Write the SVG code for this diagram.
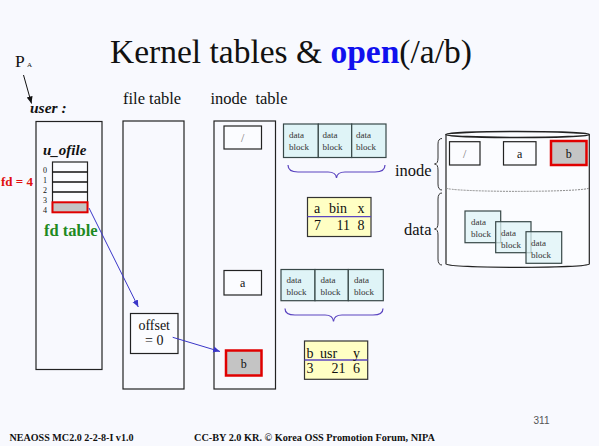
<svg xmlns="http://www.w3.org/2000/svg" width="599" height="446" viewBox="0 0 599 446">
<style>
text{font-family:"Liberation Serif","Times New Roman",serif;fill:#111}
.box{fill:none;stroke:#222;stroke-width:1.2}
.wbox{fill:#fbfcff;stroke:#222;stroke-width:1.2}
.sel{fill:#c4c4c4;stroke:#e00000;stroke-width:2.5}
.db{fill:#dff4f7;stroke:#384848;stroke-width:1.2}
.db2{fill:#dff4f7;fill-opacity:0.75;stroke:#384848;stroke-width:1.2}
.dbt{font-size:9px;fill:#333}
.yt{fill:#ffffc4;stroke:#333;stroke-width:1.2}
.brace{fill:none;stroke:#5a44c0;stroke-width:1.2}
.kbrace{fill:none;stroke:#333;stroke-width:1}
.lbl{font-size:16.5px}
.cell{font-size:14px}
.conn{stroke:#3a36c8;stroke-width:1;fill:none}
</style>
<defs>
<marker id="ah" markerWidth="8" markerHeight="8" refX="7" refY="4" orient="auto" markerUnits="userSpaceOnUse">
<path d="M0,1 L7,4 L0,7 Z" fill="#3a36c8"/>
</marker>
<marker id="ahk" markerWidth="8" markerHeight="8" refX="7" refY="4" orient="auto" markerUnits="userSpaceOnUse">
<path d="M0,1 L7,4 L0,7 Z" fill="#111"/>
</marker>
</defs>
<rect x="0" y="0" width="599" height="446" fill="#f8f9fe"/>

<text x="110" y="62.5" font-size="33.5">Kernel tables &amp; <tspan font-weight="bold" fill="#1010ee" style="fill:#1010ee">open</tspan>(/a/b)</text>

<g id="pa">
<text x="15" y="67" font-size="17.5">P</text>
<text x="27" y="67" font-size="7">A</text>
</g>
<g id="user">
<text x="30" y="112.5" font-size="15.5" font-weight="bold" font-style="italic">user :</text>
<rect class="box" x="36" y="121.5" width="66" height="248"/>
<text x="43" y="155" font-size="15" font-weight="bold" font-style="italic">u_ofile</text>
<rect class="wbox" x="52.5" y="162" width="35" height="50"/>
<line x1="52.5" y1="172" x2="87.5" y2="172" stroke="#111" stroke-width="1.3"/>
<line x1="52.5" y1="182" x2="87.5" y2="182" stroke="#111" stroke-width="1.3"/>
<line x1="52.5" y1="192" x2="87.5" y2="192" stroke="#111" stroke-width="1.3"/>
<rect class="sel" x="52.5" y="202.3" width="35" height="10" style="stroke-width:2"/>
<text x="43" y="173" font-size="8">0</text>
<text x="43" y="183" font-size="8">1</text>
<text x="43" y="193" font-size="8">2</text>
<text x="43" y="203" font-size="8">3</text>
<text x="43" y="213" font-size="8">4</text>
<text x="44" y="236" font-size="16.5" font-weight="bold" style="fill:#1f8a22">fd table</text>
<text x="1" y="186" font-size="13" font-weight="bold" style="fill:#e01010">fd = 4</text>
</g>
<g id="filetable">
<text class="lbl" x="123" y="104">file table</text>
<rect class="box" x="123" y="121" width="61" height="268"/>
<rect class="wbox" x="130.5" y="313.5" width="47.5" height="40"/>
<text class="cell" x="154.2" y="329.5" text-anchor="middle">offset</text>
<text class="cell" x="154.2" y="345" text-anchor="middle">= 0</text>
</g>
<g id="inodetable">
<text class="lbl" x="210.5" y="104" xml:space="preserve">inode  table</text>
<rect class="box" x="214" y="121" width="61.5" height="268"/>
<rect class="wbox" x="224" y="126" width="37.5" height="23"/>
<text x="242.7" y="141.5" font-size="12" text-anchor="middle" style="fill:#777">/</text>
<rect class="wbox" x="224" y="270.5" width="37.5" height="24.5"/>
<text x="242.7" y="287" font-size="12" text-anchor="middle">a</text>
<rect class="sel" x="226" y="350.5" width="35.5" height="25"/>
<text x="243.7" y="367.5" font-size="12" text-anchor="middle">b</text>
</g>
<g id="blocks1">
<rect class="db" x="283.5" y="124" width="34.8" height="33.5"/>
<rect class="db" x="318.3" y="124" width="33.4" height="33.5"/>
<rect class="db" x="351.7" y="124" width="34.3" height="33.5"/>
<text class="dbt" x="289" y="138">data</text><text class="dbt" x="289" y="150">block</text>
<text class="dbt" x="322.5" y="138">data</text><text class="dbt" x="322.5" y="150">block</text>
<text class="dbt" x="356" y="138">data</text><text class="dbt" x="356" y="150">block</text>
<path class="brace" d="M288,165 Q288,172 298,172 L328,172 Q336,172 336.5,178 Q337,172 345,172 L375,172 Q385,172 385,165"/>
</g>
<g id="inode_a">
<rect class="yt" x="307.5" y="197.5" width="63.5" height="39"/>
<line x1="307.5" y1="216.7" x2="371" y2="216.7" stroke="#5a44c0" stroke-width="1.3"/>
<text class="cell" x="314" y="213.3">a</text>
<text class="cell" x="329" y="213.3">bin</text>
<text class="cell" x="357.5" y="213.3">x</text>
<text class="cell" x="314" y="230">7</text>
<text class="cell" x="336.5" y="230">11</text>
<text class="cell" x="357.5" y="230">8</text>
</g>
<g id="blocks2">
<rect class="db" x="281" y="269.5" width="34" height="31.2"/>
<rect class="db" x="315" y="269.5" width="33.3" height="31.2"/>
<rect class="db" x="348.3" y="269.5" width="35" height="31.2"/>
<text class="dbt" x="286.5" y="283">data</text><text class="dbt" x="286.5" y="295">block</text>
<text class="dbt" x="320.5" y="283">data</text><text class="dbt" x="320.5" y="295">block</text>
<text class="dbt" x="354" y="283">data</text><text class="dbt" x="354" y="295">block</text>
<path class="brace" d="M285,308.5 Q285,315 295,315 L325,315 Q333,315 333.5,321.5 Q334,315 342,315 L373,315 Q383,315 383,308.5"/>
</g>
<g id="inode_b">
<rect class="yt" x="304.5" y="341" width="63.2" height="38.3"/>
<line x1="304.5" y1="360" x2="367.7" y2="360" stroke="#5a44c0" stroke-width="1.3"/>
<text class="cell" x="306.5" y="357.5">b</text>
<text class="cell" x="320" y="357.5">usr</text>
<text class="cell" x="353" y="357.5">y</text>
<text class="cell" x="306.5" y="373.3">3</text>
<text class="cell" x="331.5" y="373.3">21</text>
<text class="cell" x="353" y="373.3">6</text>
</g>
<g id="disk">
<path d="M446,134.5 L446,264 A71.7,3.5 0 0 0 589.3,264 L589.3,134.5" fill="#fbfcff" stroke="#222" stroke-width="1.2"/>
<ellipse cx="517.6" cy="134.5" rx="71.7" ry="3" fill="#fbfcff" stroke="#222" stroke-width="1.5"/>
<path d="M446,188 A71.7,3.5 0 0 0 589.3,188" fill="none" stroke="#888" stroke-width="1" stroke-dasharray="2,1"/>
<rect class="wbox" x="449.5" y="141.7" width="30.5" height="23.3"/>
<text x="464.7" y="157.5" font-size="12" text-anchor="middle" style="fill:#777">/</text>
<rect class="wbox" x="503.5" y="141.7" width="32.5" height="23.3"/>
<text x="519.7" y="157.5" font-size="12" text-anchor="middle">a</text>
<rect class="sel" x="551" y="141" width="35.5" height="24"/>
<text x="568.7" y="157.5" font-size="12" text-anchor="middle">b</text>
<rect class="db2" x="465" y="211" width="35.7" height="31.7"/>
<rect class="db2" x="495.7" y="221.7" width="35.3" height="31"/>
<rect class="db2" x="526" y="231.7" width="35.7" height="31.6"/>
<text class="dbt" x="471" y="225">data</text><text class="dbt" x="471" y="237">block</text>
<text class="dbt" x="501" y="235.5">data</text><text class="dbt" x="501" y="247.5">block</text>
<text class="dbt" x="531" y="245.5">data</text><text class="dbt" x="531" y="257.5">block</text>
<path class="kbrace" d="M442,138.5 Q438,138.5 438,144 L438,158 Q438,164 434.5,164 Q438,164 438,170 L438,184 Q438,190 442,190"/>
<path class="kbrace" d="M442,193 Q438,193 438,199 L438,223 Q438,229 434.5,229 Q438,229 438,235 L438,259 Q438,265 442,265"/>
<text class="lbl" x="395" y="176">inode</text>
<text class="lbl" x="404" y="235">data</text>
</g>
<g id="connectors">
<line x1="23.5" y1="75" x2="31.5" y2="103.5" stroke="#111" stroke-width="1" marker-end="url(#ahk)"/>
<line class="conn" x1="89" y1="208" x2="138.3" y2="307" marker-end="url(#ah)"/>
<line class="conn" x1="172.7" y1="337.3" x2="220" y2="351.5" marker-end="url(#ah)"/>
</g>
<g id="footer">
<text x="9.5" y="440.7" font-size="9.5" font-weight="bold" textLength="124" lengthAdjust="spacingAndGlyphs">NEAOSS MC2.0 2-2-8-I v1.0</text>
<text x="194" y="440.7" font-size="9.5" font-weight="bold" textLength="241" lengthAdjust="spacingAndGlyphs">CC-BY 2.0 KR. © Korea OSS Promotion Forum, NIPA</text>
<text x="533.5" y="424" font-size="10" font-family="Liberation Sans, Arial, sans-serif" style="fill:#555;font-family:'Liberation Sans',Arial,sans-serif">311</text>
</g>
</svg>
